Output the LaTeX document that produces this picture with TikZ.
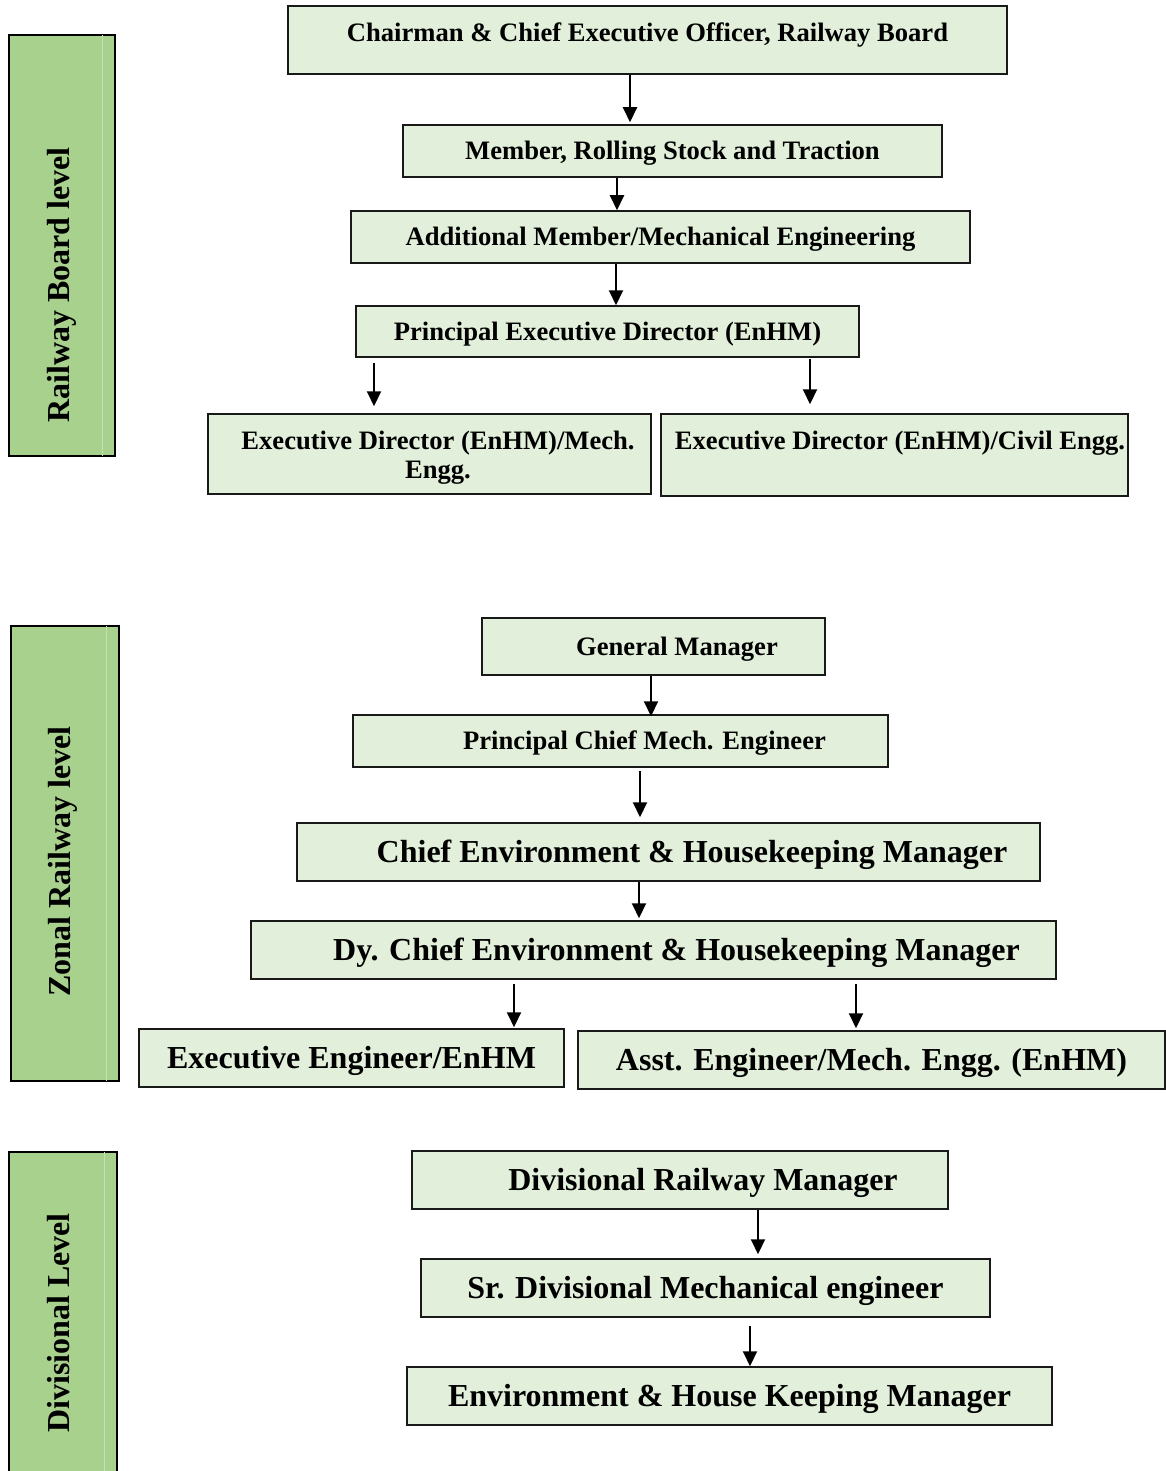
\documentclass[tikz,border=0pt]{standalone}
\usepackage{fontspec}
\setmainfont{Liberation Serif}
\usetikzlibrary{arrows.meta}
\definecolor{barfill}{HTML}{A9D18E}
\definecolor{boxfill}{HTML}{E2EFDA}
\definecolor{barline}{HTML}{C5E0B4}
\begin{document}
\begin{tikzpicture}[x=1pt,y=-1pt,
  orgbox/.style={draw=black!90, line width=1.5pt, fill=boxfill, inner sep=0pt, align=center,
    text height=17.6pt, text depth=0pt,
    font=\bfseries\fontsize{26.6}{29}\selectfont},
  bigbox/.style={orgbox, text height=21.1pt, text depth=0pt,
    font=\bfseries\fontsize{32}{36}\selectfont},
  sidebar/.style={draw=black, line width=2pt, fill=barfill, inner sep=0pt},
  sidelabel/.style={rotate=90, anchor=north, inner sep=0pt, font=\bfseries\fontsize{32}{36}\selectfont},
  arr/.style={line width=2pt, -{Triangle[width=14pt,length=15pt]}}]
\useasboundingbox (0,0) rectangle (1166,1471);

% side bars
\node[sidebar, minimum width=106pt, minimum height=421pt] (sb1) at (62,245.5) {};
\node[sidebar, minimum width=108pt, minimum height=455pt] (sb2) at (65,853.5) {};
\node[sidebar, minimum width=108pt, minimum height=340pt] (sb3) at (63,1322) {};
\draw[barline, line width=0.6pt] ([xshift=-14pt,yshift=-1pt]sb1.north east) -- ([xshift=-14pt,yshift=1pt]sb1.south east);
\draw[barline, line width=0.6pt] ([xshift=-14pt,yshift=-1pt]sb2.north east) -- ([xshift=-14pt,yshift=1pt]sb2.south east);
\draw[barline, line width=0.6pt] ([xshift=-14pt,yshift=-1pt]sb3.north east) -- ([xshift=-14pt,yshift=1pt]sb3.south east);
\node[sidelabel] (l1) at (47,285) {Railway Board level};
\node[sidelabel] (l2) at (48,861.5) {Zonal Railway level};
\node[sidelabel] (l3) at (47,1323) {Divisional Level};

% Railway Board level
\node[orgbox, minimum width=719pt, minimum height=68pt] (b1) at (647.5,40)
  {\raisebox{7pt}{Chairman \& Chief Executive Officer, Railway Board}};
\node[orgbox, minimum width=539pt, minimum height=52pt] (b2) at (672.5,151)
  {Member, Rolling Stock and Traction};
\node[orgbox, minimum width=619pt, minimum height=52pt] (b3) at (660.5,237)
  {Additional Member/Mechanical Engineering};
\node[orgbox, minimum width=503pt, minimum height=51pt] (b4) at (607.5,331.5)
  {Principal Executive Director (EnHM)};
\node[orgbox, minimum width=443pt, minimum height=80pt, text height=49.6pt, text depth=0pt] (b5) at (429.5,454)
  {\hspace*{17pt}Executive Director (EnHM)/Mech.\\\hspace*{17pt}Engg.};
\node[orgbox, minimum width=467pt, minimum height=82pt] (b6) at (894.5,455)
  {\raisebox{14pt}{\hspace*{11pt}Executive Director (EnHM)/Civil Engg.}};

% Zonal Railway level
\node[orgbox, minimum width=343pt, minimum height=57pt] (b7) at (653.5,646.5)
  {\hspace*{47pt}General Manager};
\node[orgbox, minimum width=535pt, minimum height=52pt] (b8) at (620.5,741)
  {\hspace*{48pt}Principal Chief Mech. Engineer};
\node[bigbox, minimum width=743pt, minimum height=58pt] (b9) at (668.5,852)
  {\hspace*{47pt}Chief Environment \& Housekeeping Manager};
\node[bigbox, minimum width=805pt, minimum height=58pt] (b10) at (653.5,950)
  {\hspace*{46pt}Dy. Chief Environment \& Housekeeping Manager};
\node[bigbox, minimum width=425pt, minimum height=58pt] (b11) at (351.5,1058)
  {Executive Engineer/EnHM};
\node[bigbox, minimum width=587pt, minimum height=58pt] (b12) at (871.5,1060)
  {Asst. Engineer/Mech. Engg. (EnHM)};

% Divisional level
\node[bigbox, minimum width=536pt, minimum height=58pt] (b13) at (680,1180)
  {\hspace*{46pt}Divisional Railway Manager};
\node[bigbox, minimum width=569pt, minimum height=58pt] (b14) at (705.5,1288)
  {Sr. Divisional Mechanical engineer};
\node[bigbox, minimum width=645pt, minimum height=58pt] (b15) at (729.5,1396)
  {Environment \& House Keeping Manager};

% connectors
\draw[arr, shorten >=2pt] (b1.south -| 630,0) -- (b2.north -| 630,0);
\draw[arr] (b2.south -| 617,0) -- (b3.north -| 617,0);
\draw[arr] (b3.south -| 616,0) -- (b4.north -| 616,0);
\draw[arr, shorten <=5pt, shorten >=7pt] (b4.south -| 374,0) -- (b5.north -| 374,0);
\draw[arr, shorten <=1pt, shorten >=9pt] (b4.south -| 810,0) -- (b6.north -| 810,0);
\draw[arr, shorten >=-2pt] (b7.south -| 651,0) -- (b8.north -| 651,0);
\draw[arr, shorten <=3pt, shorten >=5pt] (b8.south -| 640,0) -- (b9.north -| 640,0);
\draw[arr, shorten >=2pt] (b9.south -| 639,0) -- (b10.north -| 639,0);
\draw[arr, shorten <=4pt, shorten >=1pt] (b10.south -| 514,0) -- (b11.north -| 514,0);
\draw[arr, shorten <=4pt, shorten >=2pt] (b10.south -| 856,0) -- (b12.north -| 856,0);
\draw[arr, shorten >=4pt] (b13.south -| 758,0) -- (b14.north -| 758,0);
\draw[arr, shorten <=8pt] (b14.south -| 750,0) -- (b15.north -| 750,0);
\end{tikzpicture}
\end{document}
